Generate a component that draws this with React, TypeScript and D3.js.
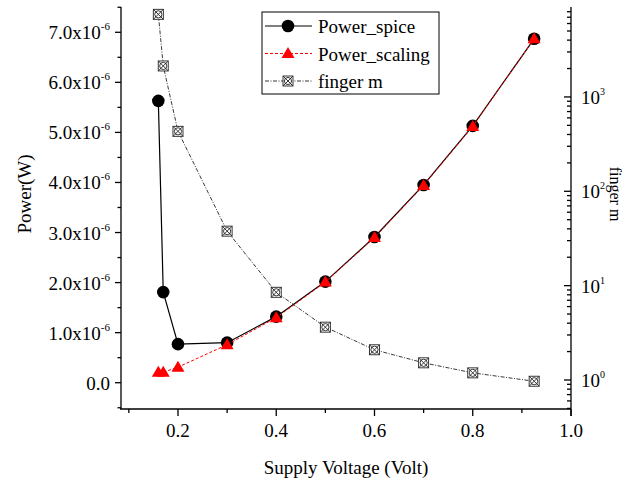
import React from "react";
import * as d3 from "d3";

// values
const voltage = [0.16, 0.17, 0.2, 0.3, 0.4, 0.5, 0.6, 0.7, 0.8, 0.925];
const powerSpice = [5.63, 1.81, 0.77, 0.8, 1.32, 2.02, 2.91, 3.95, 5.13, 6.87]; // x1e-6 W
const powerScaling = [0.21, 0.21, 0.31, 0.76, 1.3, 2.01, 2.9, 3.94, 5.12, 6.87]; // x1e-6 W
const fingerM = [7510, 2130, 432, 37.8, 8.5, 3.63, 2.09, 1.52, 1.19, 0.97];

const xMajor = [0.2, 0.4, 0.6, 0.8, 1.0];
const xMinor = [0.1, 0.3, 0.5, 0.7, 0.9];
const yMajor = [0, 1, 2, 3, 4, 5, 6, 7];
const yMinor = [-0.5, 0.5, 1.5, 2.5, 3.5, 4.5, 5.5, 6.5, 7.5];
const rMajor = [1, 10, 100, 1000];

const legendItems = ["Power_spice", "Power_scaling", "finger m"];

const W = 625;
const H = 486;
const m = { left: 121, right: 571, top: 7, bottom: 409 };
const font = "Liberation Serif, Times New Roman, serif";
const fs = 19;

const FingerMark = ({ x, y }: { x: number; y: number }) => (
  <g transform={`translate(${x},${y})`} stroke="#222" strokeWidth={0.9} fill="white">
    <rect x={-5} y={-5} width={10} height={10} />
    <circle r={3.6} fill="none" />
    <line x1={-5} y1={-5} x2={5} y2={5} />
    <line x1={-5} y1={5} x2={5} y2={-5} />
  </g>
);

const Triangle = ({ x, y }: { x: number; y: number }) => (
  <path d={`M${x},${y - 6.5}L${x + 6.5},${y + 4.5}L${x - 6.5},${y + 4.5}Z`} fill="red" />
);

const App = () => {
  const x = d3.scaleLinear().domain([0.084, 1.0]).range([m.left, m.right]);
  const y = d3.scaleLinear().domain([-0.525, 7.505]).range([m.bottom, m.top]);
  const yr = d3.scaleLog().domain([0.4926, 8980]).range([m.bottom, m.top]);

  const spiceLine = d3
    .line<number>()
    .x((d, i) => x(voltage[i]))
    .y((d) => y(d));
  const fingerLine = d3
    .line<number>()
    .x((d, i) => x(voltage[i]))
    .y((d) => yr(d));

  const rMinor = yr.ticks().filter((t) => !rMajor.includes(t));

  return (
    <svg
      width={W}
      height={H}
      style={{ position: "absolute", left: 0, top: 0, background: "white", fontFamily: font }}
    >
      {/* axes */}
      <g stroke="black" strokeWidth={1.3} fill="none">
        <line x1={m.left} y1={m.top} x2={m.left} y2={m.bottom} />
        <line x1={m.right} y1={m.top} x2={m.right} y2={m.bottom + 7} />
        <line x1={m.left - 1} y1={m.bottom} x2={m.right} y2={m.bottom} />
        {xMajor.map((t) => (
          <line key={t} x1={x(t)} x2={x(t)} y1={m.bottom} y2={m.bottom + 7} />
        ))}
        {xMinor.map((t) => (
          <line key={t} x1={x(t)} x2={x(t)} y1={m.bottom} y2={m.bottom + 4} />
        ))}
        {yMajor.map((t) => (
          <line key={t} x1={m.left - 6} x2={m.left} y1={y(t)} y2={y(t)} />
        ))}
        {yMinor
          .filter((t) => y(t) <= m.bottom && y(t) >= m.top)
          .map((t) => (
            <line key={t} x1={m.left - 3.5} x2={m.left} y1={y(t)} y2={y(t)} />
          ))}
        {rMajor.map((t) => (
          <line key={t} x1={m.right - 7} x2={m.right} y1={yr(t)} y2={yr(t)} />
        ))}
        {rMinor.map((t) => (
          <line key={t} x1={m.right - 4} x2={m.right} y1={yr(t)} y2={yr(t)} />
        ))}
      </g>

      {/* tick labels */}
      <g fontSize={fs} fill="black">
        {xMajor.map((t) => (
          <text key={t} x={x(t)} y={m.bottom + 28} textAnchor="middle">
            {t.toFixed(1)}
          </text>
        ))}
        {yMajor.map((t) => (
          <text key={t} x={m.left - 11} y={y(t) + 7} textAnchor="end">
            {t === 0 ? (
              "0.0"
            ) : (
              <>
                {t.toFixed(1)}x10
                <tspan fontSize={11} dy={-9}>-6</tspan>
              </>
            )}
          </text>
        ))}
        {rMajor.map((t) => (
          <text key={t} x={m.right + 10} y={yr(t) + 7}>
            10
            <tspan fontSize={10} dy={-9}>{Math.round(Math.log10(t))}</tspan>
          </text>
        ))}
      </g>

      {/* axis titles */}
      <text x={(m.left + m.right) / 2} y={m.bottom + 65} textAnchor="middle" fontSize={fs}>
        Supply Voltage (Volt)
      </text>
      <text transform="translate(31,194) rotate(-90)" textAnchor="middle" fontSize={19}>
        Power(W)
      </text>
      <text transform="translate(610,194) rotate(90)" textAnchor="middle" fontSize={16}>
        finger m
      </text>

      {/* finger m */}
      <path
        d={fingerLine(fingerM) || ""}
        fill="none"
        stroke="#222"
        strokeWidth={0.9}
        strokeDasharray="4,1.5,1,1.5"
      />
      {fingerM.map((d, i) => (
        <FingerMark key={i} x={x(voltage[i])} y={yr(d)} />
      ))}

      {/* power spice */}
      <path d={spiceLine(powerSpice) || ""} fill="none" stroke="black" strokeWidth={1.2} />
      {powerSpice.map((d, i) => (
        <circle key={i} cx={x(voltage[i])} cy={y(d)} r={6.3} fill="black" />
      ))}

      {/* power scaling */}
      <path
        d={spiceLine(powerScaling) || ""}
        fill="none"
        stroke="red"
        strokeWidth={1}
        strokeDasharray="3,2"
      />
      {powerScaling.map((d, i) => (
        <Triangle key={i} x={x(voltage[i])} y={y(d)} />
      ))}

      {/* legend */}
      <rect x={262} y={12} width={177} height={82} fill="white" stroke="black" strokeWidth={1} />
      {legendItems.map((name, i) => {
        const ly = 26 + i * 27.5;
        return (
          <g key={name}>
            {i === 0 && (
              <>
                <line x1={265} x2={312} y1={ly} y2={ly} stroke="black" strokeWidth={1.2} />
                <circle cx={288} cy={ly} r={6.3} fill="black" />
              </>
            )}
            {i === 1 && (
              <>
                <line x1={265} x2={312} y1={ly} y2={ly} stroke="red" strokeWidth={1} strokeDasharray="3,2" />
                <Triangle x={288} y={ly} />
              </>
            )}
            {i === 2 && (
              <>
                <line x1={265} x2={312} y1={ly} y2={ly} stroke="#222" strokeWidth={0.9} strokeDasharray="4,1.5,1,1.5" />
                <FingerMark x={288} y={ly} />
              </>
            )}
            <text x={318} y={ly + 7} fontSize={fs}>
              {name}
            </text>
          </g>
        );
      })}
    </svg>
  );
};

export default App;
